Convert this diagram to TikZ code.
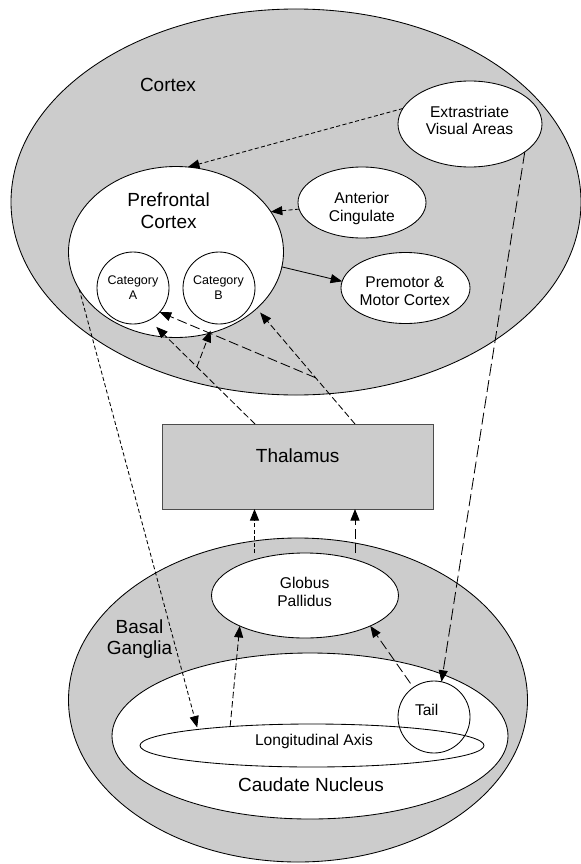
\documentclass[tikz,border=0pt]{standalone}
\usepackage{fontspec}
\setmainfont{Liberation Sans}
\usetikzlibrary{shapes.geometric,arrows.meta,calc}
\definecolor{fillgray}{HTML}{CCCCCC}
\begin{document}
\begin{tikzpicture}[x=1bp,y=-1bp,
  gregion/.style={ellipse,draw=black,fill=fillgray,line width=0.85bp,inner sep=0pt,outer sep=0pt},
  wregion/.style={ellipse,draw=black,fill=white,line width=0.85bp,inner sep=0pt,outer sep=0pt},
  circ/.style={circle,draw=black,line width=0.85bp,minimum size=72bp,inner sep=0pt,outer sep=0pt},
  txtbig/.style={font=\fontsize{19bp}{21.5bp}\selectfont,align=center,inner sep=0pt},
  txtmid/.style={font=\fontsize{15.6bp}{17.8bp}\selectfont,align=center,inner sep=0pt},
  txtsmall/.style={font=\fontsize{12.5bp}{15bp}\selectfont,align=center,inner sep=0pt},
  arr/.style={-{Triangle[length=11.5bp,width=9bp]},line width=0.85bp},
  dshort/.style={dash pattern=on 4bp off 2.5bp},
  dmed/.style={dash pattern=on 6.5bp off 3bp},
  dlong/.style={dash pattern=on 10bp off 4bp},
  dxlong/.style={dash pattern=on 12bp off 4.5bp}
]
\useasboundingbox (0,0) rectangle (581,864);

% Cortex
\node[gregion,minimum width=570bp,minimum height=386bp] (cortex) at (296,202) {};
\node[txtbig,anchor=base] (cortext) at (168,91.5) {Cortex};
\node[wregion,minimum width=144bp,minimum height=86bp] (extra) at (470,124) {};
\node[txtmid] (extrat) at (469.5,120.5) {Extrastriate\\Visual Areas};
\node[wregion,minimum width=215bp,minimum height=171bp] (pfc) at (176,252) {};
\node[txtbig] (pfct) at (168.6,210.5) {Prefrontal\\Cortex};
\node[wregion,minimum width=128bp,minimum height=71bp] (ac) at (362,202.5) {};
\node[txtmid] (act) at (361.8,208.6) {Anterior\\Cingulate};
\node[wregion,minimum width=129bp,minimum height=71bp] (pm) at (405.5,288) {};
\node[txtmid] (pmt) at (404.8,291.5) {Premotor \&\\Motor Cortex};
\node[circ,fill=white] (catA) at (133,288) {};
\node[txtsmall] (catAt) at (133,287.5) {Category\\A};
\node[circ,fill=white] (catB) at (219,288) {};
\node[txtsmall] (catBt) at (218.5,287.5) {Category\\B};

% Thalamus
\node[rectangle,draw=black!70,fill=fillgray,line width=0.85bp,minimum width=271bp,minimum height=85bp,inner sep=0pt,outer sep=0pt] (thal) at (297.5,466.5) {};
\node[txtbig,anchor=base] (thalt) at (297.7,462) {Thalamus};

% Basal ganglia
\node[gregion,minimum width=459bp,minimum height=324bp] (bg) at (298,700) {};
\node[txtbig] (bgt) at (139.5,639) {Basal\\Ganglia};
\node[wregion,minimum width=187bp,minimum height=85bp] (gp) at (305,595.5) {};
\node[txtmid] (gpt) at (304.6,592) {Globus\\Pallidus};
\node[wregion,minimum width=396bp,minimum height=166bp] (caud) at (310,736) {};
\node[txtbig,anchor=base] (caudt) at (311,791.5) {Caudate Nucleus};
\node[wregion,minimum width=344bp,minimum height=43bp] (la) at (312,745.5) {};
\node[txtmid,anchor=base] (lat) at (314,745) {Longitudinal Axis};
\node[circ] (tail) at (434,717) {};
\node[txtmid,anchor=base] (tailt) at (426.7,715.5) {Tail};

% connectors within cortex
\draw[arr,dshort] (extra.167.3) -- (pfc.82.6);
\draw[arr,dshort] (ac.186) -- (pfc.23);
\draw[arr] (pfc.-8) -- (pm.174.7);

% cortex <-> basal ganglia
\draw[arr,dshort,shorten >=2bp] (pfc.201) -- (la.172);
\draw[arr,dxlong] (extra.-27) -- (tail.78);

% thalamus -> cortex
\coordinate (t1) at ($(thal.north)+(-42.5,0)$);
\coordinate (t2) at ($(thal.north)+(57.5,0)$);
\draw[arr,dmed,shorten >=9.7bp] (t1) -- (catA.-63.4);
\coordinate (b1) at ($(t1)!0.55!(catA.-63.4)$);
\draw[arr,dmed,shorten >=7.6bp] (b1) -- (catB.-99);
\draw[arr,dmed,shorten >=5.3bp] (t2) -- (pfc.-35.7);
\coordinate (b2) at ($(t2)!0.40!(pfc.-35.7)$);
\draw[arr,dlong] (b2) -- (catA.-42);

% globus pallidus -> thalamus
\coordinate (g1) at ($(gp.north)+(-50.5,0)$);
\coordinate (g2) at ($(gp.north)+(50,0)$);
\draw[arr,dshort] (g1) -- (g1 |- thal.south);
\draw[arr,dlong] (g2) -- (g2 |- thal.south);

% caudate -> globus pallidus
\draw[arr,dmed] (la.167.6) -- (gp.205.5);
\draw[arr,dlong,shorten <=5bp] (tail.125) -- (gp.-25);
\end{tikzpicture}
\end{document}
